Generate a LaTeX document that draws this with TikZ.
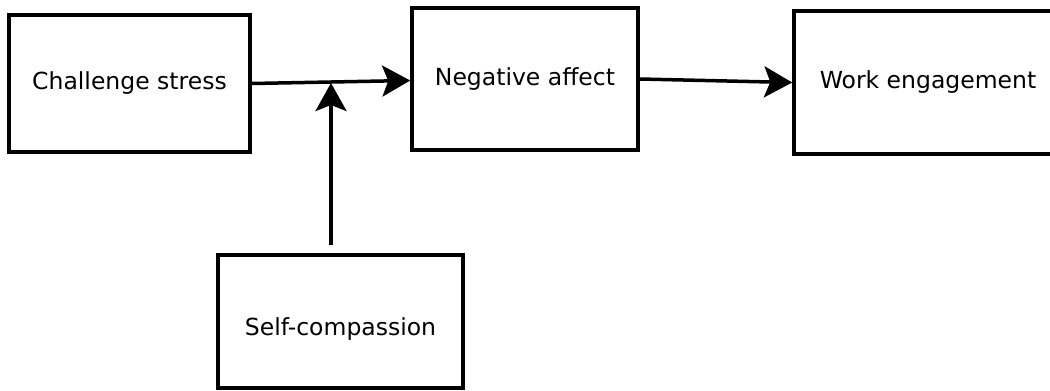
\documentclass[tikz,border=0pt]{standalone}
\usepackage{fontspec}
\setmainfont{DejaVu Sans}
\usetikzlibrary{arrows.meta}
\begin{document}
\begin{tikzpicture}[x=1pt,y=-1pt,
  box/.style={draw, line width=3.5pt, inner sep=0pt, font=\fontsize{23.5}{28}\selectfont},
  link/.style={line width=3.5pt, -{Stealth[length=28pt,width=31pt,inset=6pt]}}]
\useasboundingbox (0,0) rectangle (1050,391);
\node[box, minimum width=241pt, minimum height=137pt] (cs) at (129.5,83.5) {Challenge stress};
\node[box, minimum width=226pt, minimum height=142pt] (na) at (525,79) {Negative affect};
\node[box, minimum width=268pt, minimum height=143pt] (we) at (928,82.5) {Work engagement};
\node[box, minimum width=245pt, minimum height=133pt, text height=32pt, text depth=5pt] (sc) at (340.5,321.5) {Self-compassion};
\draw[link] (cs.east) -- ([yshift=-1.5pt]na.west);
\draw[link] (na.east) -- (we.west);
\coordinate (m) at (331,83);
\draw[link, shorten <=8pt] (sc.north -| m) -- (m);
\end{tikzpicture}
\end{document}
